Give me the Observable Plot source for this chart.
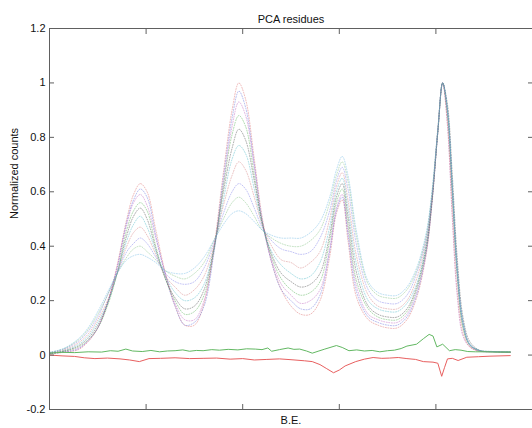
<!DOCTYPE html>
<html><head><meta charset="utf-8">
<script src="https://cdn.jsdelivr.net/npm/d3@7"></script>
<script src="https://cdn.jsdelivr.net/npm/@observablehq/plot@0.6"></script>
<style>body{margin:0;background:#fff}</style>
</head><body><div id="chart"></div>
<script>
// B.E. grid (arbitrary units; axis has no tick labels)
const be = [0,0.15,0.3,0.4,0.5,0.6,0.7,0.8,0.87,0.94,1.01,1.1,1.2,1.3,1.4,1.5,1.6,1.7,1.8,1.89,1.96,2.03,2.12,2.2,2.3,2.4,2.5,2.6,2.7,2.8,2.9,2.97,3.03,3.09,3.18,3.3,3.4,3.5,3.6,3.7,3.8,3.9,3.96,4.02,4.07,4.12,4.17,4.22,4.28,4.35,4.45,4.6,4.77];

const spectrum1 = [.005,.01,.02,.05,.10,.19,.33,.50,.59,.63, .60,.46,.30,.18,.11,.11,.19,.39,.67,.90, 1.0,.94,.72,.51,.34,.24,.18,.15,.15,.20, .36,.52,.57,.42,.21,.13,.11,.10,.10,.13, .21,.37,.56,.82,1.0,.88,.58,.29,.10,.035, .015,.012,.01];
const spectrum2 = [.005,.011,.023,.055,.10,.19,.32,.49,.57,.61, .58,.44,.29,.18,.11,.12,.18,.37,.65,.87, .97,.91,.70,.50,.34,.24,.20,.17,.17,.22, .38,.53,.58,.44,.23,.14,.12,.11,.11,.14, .22,.38,.56,.82,1.0,.90,.62,.33,.12,.04, .016,.012,.01];
const spectrum3 = [.006,.012,.026,.05,.10,.19,.32,.48,.56,.59, .55,.43,.30,.19,.13,.13,.20,.38,.63,.84, .93,.88,.69,.49,.35,.26,.22,.19,.20,.24, .39,.54,.59,.46,.25,.15,.13,.12,.12,.15, .23,.38,.57,.82,1.0,.84,.50,.22,.07,.03, .014,.012,.01];
const spectrum4 = [.006,.014,.03,.055,.10,.18,.30,.46,.53,.56, .53,.40,.28,.20,.15,.16,.22,.38,.62,.81, .88,.84,.66,.49,.36,.28,.24,.22,.23,.27, .42,.56,.61,.48,.27,.17,.14,.13,.13,.16, .24,.39,.57,.82,1.0,.88,.59,.30,.10,.036, .016,.012,.01];
const spectrum5 = [.007,.015,.034,.062,.11,.19,.30,.44,.51,.54, .50,.39,.28,.21,.17,.18,.24,.39,.60,.76, .83,.79,.64,.49,.37,.30,.27,.25,.26,.30, .44,.58,.63,.51,.30,.18,.15,.14,.14,.17, .25,.40,.57,.82,1.0,.92,.66,.36,.14,.05, .018,.012,.011];
const spectrum6 = [.007,.017,.039,.069,.12,.19,.30,.42,.48,.51, .47,.38,.29,.23,.20,.21,.26,.39,.57,.72, .77,.74,.61,.48,.38,.33,.30,.28,.29,.34, .47,.60,.65,.54,.33,.20,.17,.16,.16,.19, .26,.41,.58,.82,1.0,.89,.60,.30,.11,.037, .016,.012,.011];
const spectrum7 = [.008,.019,.045,.077,.13,.20,.30,.40,.45,.47, .44,.37,.29,.25,.22,.24,.29,.40,.55,.66, .71,.68,.58,.48,.40,.35,.34,.32,.34,.38, .50,.62,.67,.57,.36,.22,.18,.17,.17,.20, .28,.42,.58,.83,1.0,.85,.52,.24,.08,.03, .015,.013,.011];
const spectrum8 = [.009,.022,.051,.087,.14,.22,.30,.38,.41,.43, .41,.36,.30,.27,.26,.27,.32,.41,.52,.60, .63,.61,.54,.47,.42,.39,.38,.37,.38,.43, .53,.64,.69,.61,.40,.24,.20,.19,.19,.22, .30,.43,.59,.83,1.0,.90,.61,.31,.12,.039, .017,.013,.012];
const spectrum9 = [.0095,.0235,.056,.094,.15,.22,.30,.36,.39,.40, .38,.35,.31,.29,.28,.30,.34,.42,.50,.56, .58,.56,.51,.46,.43,.41,.40,.40,.42,.46, .56,.66,.71,.64,.43,.26,.22,.21,.21,.24, .31,.44,.60,.83,1.0,.90,.62,.32,.12,.04, .018,.013,.012];
const spectrum10 = [.01,.025,.06,.10,.16,.23,.30,.35,.365,.37, .36,.34,.31,.30,.30,.32,.36,.42,.48,.52, .53,.52,.49,.46,.44,.43,.43,.43,.45,.49, .58,.68,.73,.66,.45,.27,.23,.22,.22,.25, .32,.45,.60,.83,1.0,.90,.62,.32,.12,.04, .018,.013,.012];

const spectrumColors = ["#d85a5a","#5060d8","#b850b8","#40a840","#3a3a3a","#38b0c0","#d07070","#7070e8","#70b870","#60b0e0"];

const greenResidueX = [0,0.13,0.26,0.4,0.54,0.63,0.71,0.79,0.86,0.96,1.05,1.14,1.22,1.30,1.38,1.45,1.52,1.59,1.68,1.76,1.85,1.95,2.04,2.13,2.2,2.26,2.30,2.38,2.47,2.53,2.59,2.66,2.72,2.78,2.85,2.97,3.03,3.10,3.18,3.26,3.34,3.42,3.50,3.57,3.64,3.70,3.80,3.87,3.93,3.97,4.01,4.07,4.14,4.2,4.26,4.33,4.41,4.51,4.61,4.77];
const greenResidueY = [.007,.01,.009,.012,.011,.016,.014,.022,.015,.013,.017,.012,.015,.016,.019,.014,.017,.016,.02,.018,.021,.019,.023,.022,.02,.026,.014,.02,.026,.021,.022,.015,.007,.014,.022,.035,.028,.016,.019,.015,.017,.012,.016,.018,.024,.033,.040,.060,.076,.070,.030,.040,.016,.02,.018,.013,.012,.012,.011,.011];
const redResidueX = [0,0.13,0.26,0.36,0.47,0.6,0.73,0.83,0.93,1.03,1.15,1.30,1.45,1.59,1.73,1.87,2.0,2.12,2.25,2.38,2.5,2.64,2.72,2.80,2.87,2.94,3.0,3.06,3.17,3.26,3.35,3.44,3.52,3.61,3.70,3.79,3.87,3.97,4.02,4.06,4.09,4.12,4.17,4.23,4.32,4.44,4.56,4.77];
const redResidueY = [0,-.003,-.005,-.01,-.013,-.011,-.014,-.018,-.024,-.013,-.012,-.010,-.013,-.012,-.011,-.015,-.013,-.018,-.016,-.014,-.017,-.021,-.024,-.035,-.05,-.065,-.055,-.040,-.024,-.015,-.009,-.012,-.011,-.009,-.013,-.016,-.024,-.026,-.030,-.078,-.045,-.014,-.012,-.020,-.008,-.006,-.004,-.002];

const yTicks = [-0.2,0,0.2,0.4,0.6,0.8,1,1.2];
const yTickLabels = ["-0.2","0","0.2","0.4","0.6","0.8","1","1.2"];
const xTicks = [1,2,3,4];

const titleText = "PCA residues";
const xLabel = "B.E.";
const yLabel = "Normalized counts";

const spectra = [spectrum1,spectrum2,spectrum3,spectrum4,spectrum5,spectrum6,spectrum7,spectrum8,spectrum9,spectrum10];
const rows = (xs, ys) => xs.map((x, i) => ({x, y: ys[i]}));
const axisColor = "#606060";

const chart = Plot.plot({
  width: 532, height: 428,
  marginLeft: 49, marginRight: 0, marginTop: 28, marginBottom: 19,
  style: {fontFamily: '"Liberation Sans", Arial, sans-serif', fontSize: "11px", color: "#111", background: "#fff", overflow: "visible"},
  x: {domain: [0, 5], label: null},
  y: {domain: [-0.2, 1.2], label: null},
  marks: [
    ...spectra.map((s, i) => Plot.line(rows(be, s), {x: "x", y: "y", stroke: spectrumColors[i], strokeWidth: 1, strokeDasharray: "1,1.6", strokeOpacity: 0.42, curve: "catmull-rom"})),
    Plot.line(rows(greenResidueX, greenResidueY), {x: "x", y: "y", stroke: "#62b862", strokeWidth: 1}),
    Plot.line(rows(redResidueX, redResidueY), {x: "x", y: "y", stroke: "#e85f5f", strokeWidth: 1}),
    Plot.frame({stroke: axisColor}),
    Plot.axisY(yTicks, {anchor: "left", tickSize: -5, tickPadding: 9, tickFormat: d => yTickLabels[yTicks.indexOf(d)], label: null, stroke: axisColor, fill: "#111"}),
    Plot.axisY(yTicks, {anchor: "right", tickSize: -5, tickFormat: () => "", label: null, stroke: axisColor}),
    Plot.axisX(xTicks, {anchor: "bottom", tickSize: -5, tickFormat: () => "", label: null, stroke: axisColor}),
    Plot.axisX(xTicks, {anchor: "top", tickSize: -5, tickFormat: () => "", label: null, stroke: axisColor}),
    Plot.text([titleText], {text: d => d, frameAnchor: "top", dy: -13, fontSize: 11, fill: "#111"}),
    Plot.text([xLabel], {text: d => d, frameAnchor: "bottom", dy: 14, fontSize: 11, fill: "#111"}),
    Plot.text([yLabel], {text: d => d, frameAnchor: "left", dx: -35, rotate: -90, fontSize: 11, fill: "#111"})
  ]
});
document.getElementById("chart").appendChild(chart);
</script>
</body></html>
